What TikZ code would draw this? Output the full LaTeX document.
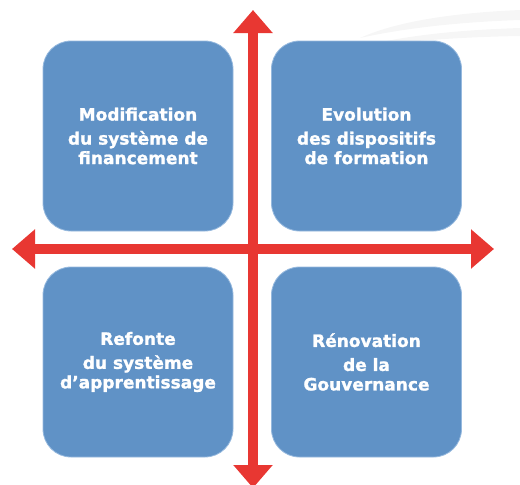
\documentclass[tikz,border=0pt]{standalone}
\usepackage{fontspec}
\setmainfont{DejaVu Sans}[BoldFeatures={FakeBold=1.3}]
\usetikzlibrary{arrows.meta}
\definecolor{boxblue}{RGB}{96,146,198}
\definecolor{boxedge}{RGB}{150,185,222}
\definecolor{axisred}{RGB}{232,55,50}
\definecolor{swoosh}{RGB}{246,246,246}
\tikzset{
  quad/.style={draw=boxedge, line width=0.8pt, fill=boxblue, rounded corners=28pt,
    minimum width=190pt, minimum height=190pt, inner sep=0pt},
  label/.style={text=white, align=center, inner sep=0pt,
    font=\fontsize{17}{19.5}\selectfont\bfseries},
  axis/.style={draw=axisred, line width=9.5pt,
    {Triangle[length=23pt,width=38pt]}-{Triangle[length=23pt,width=38pt]}}
}
\begin{document}
\begin{tikzpicture}[x=1pt,y=-1pt]
  \useasboundingbox (0,0) rectangle (520,485);
  % faint background swooshes
  \fill[swoosh] (520,10) .. controls (450,13) and (395,22) .. (360,38)
    .. controls (405,28) and (460,22) .. (520,20) -- cycle;
  \fill[swoosh] (520,28) .. controls (460,30) and (405,35) .. (355,48)
    .. controls (405,41) and (460,37) .. (520,36) -- cycle;

  % quadrant boxes
  \node[quad] (tl) at (138,136) {};
  \node[quad] (tr) at (366.5,136) {};
  \node[quad] (bl) at (138,362) {};
  \node[quad] (br) at (366.5,362) {};

  \node[label] (tltext) at (tl.center) {Modification\\[4.5pt]du système de\\financement};
  \node[label] (trtext) at (tr.center) {Evolution\\[4.5pt]des dispositifs\\de formation};
  \node[label] (bltext) at (bl.center) {Refonte\\[4.5pt]du système\\d’apprentissage};
  \node[label] (brtext) at (br.center) {Rénovation\\[4.5pt]de la\\Gouvernance};

  % axis end points
  \coordinate (top) at (253,10);
  \coordinate (bottom) at (253,488);
  \coordinate (left) at (12,249);
  \coordinate (right) at (494,249);

  \draw[axis] (left) -- (right);
  \draw[axis] (bottom) -- (top);
\end{tikzpicture}
\end{document}
